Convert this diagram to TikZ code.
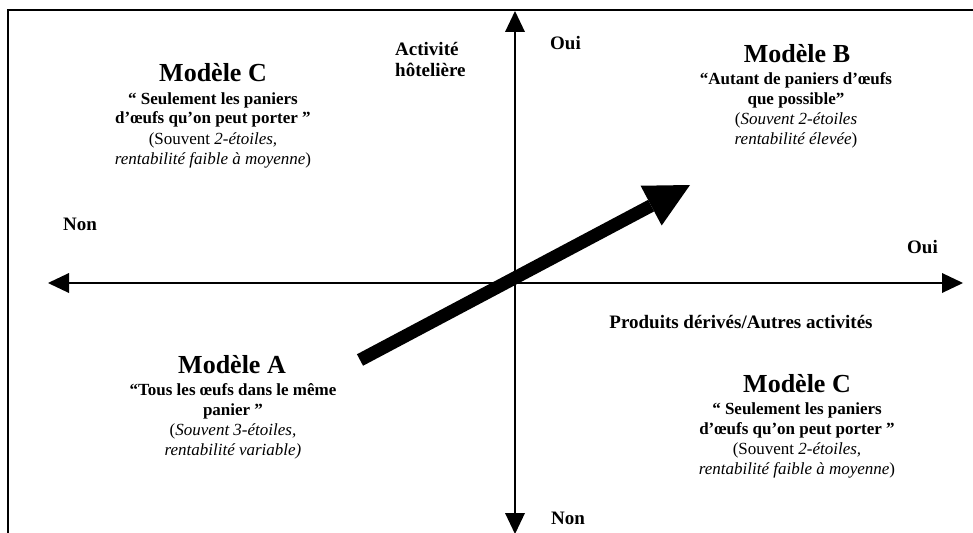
\documentclass[tikz,border=0pt]{standalone}
\usepackage{fontspec}
\setmainfont{Liberation Serif}
\usetikzlibrary{arrows.meta}
\begin{document}
\begin{tikzpicture}[x=1pt,y=-1pt,
  frame/.style={line width=2pt,line cap=rect},
  axis/.style={line width=2pt,-{Triangle[length=21pt,width=20pt,line width=0pt]}},
  bigarrow/.style={line width=13pt,-{Triangle[length=44pt,width=45pt,line width=0pt]}},
  ttl/.style={font=\fontsize{26}{30}\selectfont\bfseries,inner sep=0pt,anchor=base},
  bod/.style={font=\fontsize{17}{20}\selectfont,align=center,inner sep=0pt,anchor=base},
  lab/.style={font=\fontsize{19}{21}\selectfont\bfseries,inner sep=0pt,anchor=base west}]
\useasboundingbox (0,0) rectangle (973,532);
% frame
\draw[frame] (8,540) -- (8,10) -- (980,10);
% axes
\coordinate (o) at (515,283);
\coordinate (top) at (515,11);
\coordinate (bot) at (515,534);
\coordinate (lft) at (48,283);
\coordinate (rgt) at (963,283);
\draw[axis] (o) -- (top);
\draw[axis] (o) -- (bot);
\draw[axis] (o) -- (lft);
\draw[axis] (o) -- (rgt);
% thick arrow
\coordinate (s) at (360,360);
\coordinate (t) at (690,185);
\draw[bigarrow] (s) -- (t);
% axis labels (base = last line)
\node[lab,align=left] (act) at (395,77) {Activité\\hôtelière};
\node[lab] (ouiT) at (550,50) {Oui};
\node[lab] (nonL) at (63,230) {Non};
\node[lab] (ouiR) at (907,253) {Oui};
\node[lab] (nonB) at (551,524) {Non};
\node[lab,anchor=base] (prod) at (741,328) {Produits dérivés/Autres activités};
% Modèle C (top left)
\node[ttl] (cT) at (213,82) {Modèle C};
\node[bod] (cTb) at (213,164) {\textbf{“ Seulement les paniers}\\\textbf{d’œufs qu’on peut porter ”}\\(Souvent \textit{2-étoiles,}\\\textit{rentabilité faible à moyenne})};
% Modèle B
\node[ttl] (bT) at (797,63) {Modèle B};
\node[bod] (bTb) at (796,144) {\textbf{“Autant de paniers d’œufs}\\\textbf{que possible”}\\(\textit{Souvent 2-étoiles}\\\textit{rentabilité élevée})};
% Modèle A
\node[ttl] (aT) at (232,373) {Modèle A};
\node[bod] (aTb) at (233,455) {\textbf{“Tous les œufs dans le même}\\\textbf{panier ”}\\(\textit{Souvent 3-étoiles,}\\\textit{rentabilité variable)}};
% Modèle C (bottom right)
\node[ttl] (c2T) at (797,392) {Modèle C};
\node[bod] (c2Tb) at (797,474) {\textbf{“ Seulement les paniers}\\\textbf{d’œufs qu’on peut porter ”}\\(Souvent \textit{2-étoiles,}\\\textit{rentabilité faible à moyenne})};
\end{tikzpicture}
\end{document}
